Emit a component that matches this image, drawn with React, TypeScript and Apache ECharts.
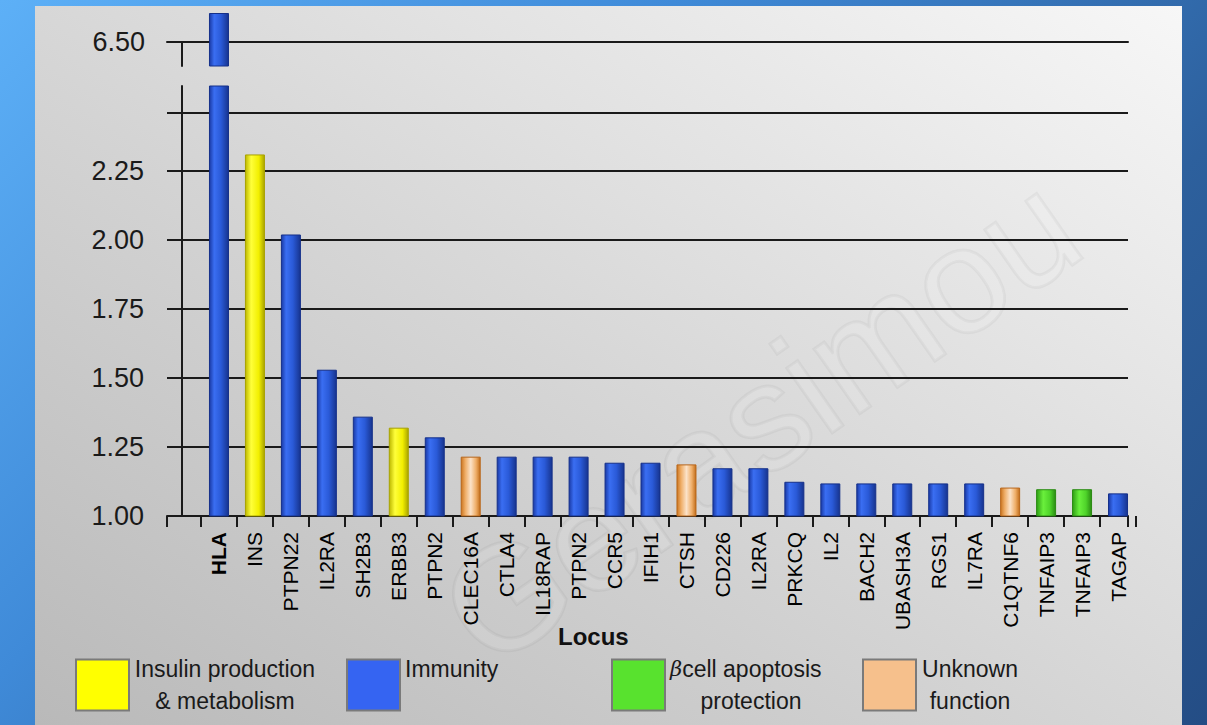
import { useEffect, useRef } from 'react';
import * as echarts from 'echarts';

// Loci ranked by odds ratio, with the functional group of each locus
const loci = ['HLA', 'INS', 'PTPN22', 'IL2RA', 'SH2B3', 'ERBB3', 'PTPN2', 'CLEC16A', 'CTLA4', 'IL18RAP', 'PTPN2', 'CCR5', 'IFIH1', 'CTSH', 'CD226', 'IL2RA', 'PRKCQ', 'IL2', 'BACH2', 'UBASH3A', 'RGS1', 'IL7RA', 'C1QTNF6', 'TNFAIP3', 'TNFAIP3', 'TAGAP'];
const oddsRatios = [6.6, 2.31, 2.02, 1.53, 1.36, 1.32, 1.285, 1.215, 1.215, 1.215, 1.215, 1.193, 1.193, 1.187, 1.173, 1.173, 1.124, 1.118, 1.118, 1.118, 1.118, 1.118, 1.103, 1.097, 1.097, 1.082];
const locusGroup = ['imm', 'ins', 'imm', 'imm', 'imm', 'ins', 'imm', 'unk', 'imm', 'imm', 'imm', 'imm', 'imm', 'unk', 'imm', 'imm', 'imm', 'imm', 'imm', 'imm', 'imm', 'imm', 'unk', 'beta', 'beta', 'imm'];

const groupKeys = ['ins', 'imm', 'beta', 'unk'];
const groupNames = ['Insulin production & metabolism', 'Immunity', 'β cell apoptosis protection', 'Unknown function'];

// Broken value axis: lower segment and upper segment
const lowerMin = 1.0;
const lowerTop = 2.46;
const lowerBarMax = 2.558;
const lowerTicks = [1.0, 1.25, 1.5, 1.75, 2.0, 2.25];
const upperTick = 6.5;
const upperBarMin = 6.417;
const upperBarMax = 6.6;

const FONT = "'Liberation Sans', Arial, sans-serif";

const barStops: Record<string, [number, string][]> = {
  imm: [[0, '#1a3aa6'], [0.25, '#3a6ef2'], [0.6, '#2a5ad8'], [1, '#17348f']],
  ins: [[0, '#bdb800'], [0.3, '#ffff3a'], [0.7, '#f2ef00'], [1, '#aaa400']],
  unk: [[0, '#cc7620'], [0.22, '#efae68'], [0.5, '#fbe2c8'], [0.78, '#efae68'], [1, '#c26d1a']],
  beta: [[0, '#2f9e15'], [0.35, '#6af03c'], [0.7, '#4fd42a'], [1, '#2a8c12']],
};
const barBorder: Record<string, string> = {
  imm: '#15308a', ins: '#a8a200', unk: '#b8661a', beta: '#2a8a12',
};
const legendColor: Record<string, string> = {
  ins: '#ffff00', imm: '#3564f2', beta: '#58e22e', unk: '#f6c08c',
};

const barColor = (key: string) =>
  new echarts.graphic.LinearGradient(0, 0, 1, 0, barStops[key].map(([offset, color]) => ({ offset, color })));

const legendText: Record<string, string> = {
  'Insulin production & metabolism': '{ins|Insulin production}\n{ins|& metabolism}',
  'Immunity': '{imm|Immunity}\n{imm| }',
  'β cell apoptosis protection': '{sym|β}{beta|cell apoptosis}\n{betab|protection}',
  'Unknown function': '{unk|Unknown}\n{unk|function}',
};

export default function App() {
  const ref = useRef<HTMLDivElement>(null);

  useEffect(() => {
    if (!ref.current) return;
    const chart = echarts.init(ref.current, null, { renderer: 'svg' });

    const legendTok = { fontSize: 23, lineHeight: 32, color: '#1a1a1a', fontFamily: FONT };

    const lowerSeries = groupKeys.map((key, gi) => ({
      type: 'bar',
      name: groupNames[gi],
      xAxisIndex: 3,
      yAxisIndex: 3,
      barWidth: 20,
      barGap: '-100%',
      data: oddsRatios.map((v, i) => (locusGroup[i] === key ? v : '-')),
      itemStyle: { color: barColor(key), borderColor: barBorder[key], borderWidth: 1 },
    }));

    const upperSeries = {
      type: 'bar',
      name: 'Immunity',
      xAxisIndex: 4,
      yAxisIndex: 4,
      barWidth: 20,
      data: oddsRatios.map((v, i) =>
        v > lowerBarMax
          ? { value: v, itemStyle: { color: barColor(locusGroup[i]), borderColor: barBorder[locusGroup[i]], borderWidth: 1 } }
          : '-'
      ),
    };

    const black = { color: '#1a1a1a', width: 2 };

    chart.setOption({
      animation: false,
      backgroundColor: 'transparent',
      title: {
        text: 'Locus',
        left: 553,
        top: 619,
        textStyle: { fontSize: 24, fontWeight: 'bold', color: '#111', fontFamily: FONT },
      },
      graphic: [
        {
          type: 'text',
          x: 760,
          y: 420,
          rotation: 0.61,
          z: 0,
          silent: true,
          style: {
            text: 'Gerasimou',
            fontSize: 150,
            fontFamily: FONT,
            fill: 'rgba(255,255,255,0.11)',
            stroke: 'rgba(0,0,0,0.04)',
            lineWidth: 3,
            align: 'center',
            verticalAlign: 'middle',
          },
        },
      ],
      legend: {
        left: 75,
        top: 653,
        padding: 0,
        itemWidth: 53,
        itemHeight: 51,
        itemGap: 30,
        icon: 'rect',
        selectedMode: false,
        data: groupKeys.map((key, gi) => ({
          name: groupNames[gi],
          itemStyle: { color: legendColor[key], borderColor: '#7a7a7a', borderWidth: 2 },
        })),
        formatter: (name: string) => legendText[name],
        textStyle: {
          ...legendTok,
          rich: {
            ins: { ...legendTok, width: 182, align: 'center' },
            imm: { ...legendTok, width: 176, align: 'left' },
            sym: { ...legendTok, fontSize: 21, fontStyle: 'italic', fontFamily: "'DejaVu Serif', serif" },
            beta: { ...legendTok },
            betab: { ...legendTok, width: 162, align: 'center' },
            unk: { ...legendTok, width: 98, align: 'center' },
          },
        },
      },
      grid: [
        { left: 167, top: 113, width: 961, height: 403 },
        { left: 182, top: 86, width: 10, height: 430 },
        { left: 167, top: 42, width: 961, height: 24 },
        { left: 201, top: 86, width: 935, height: 430 },
        { left: 201, top: 13, width: 935, height: 53 },
      ],
      xAxis: [
        {
          gridIndex: 0, type: 'value', min: 0, max: 1, interval: 1,
          axisLine: { show: true, lineStyle: black },
          axisTick: { show: true, length: 11, lineStyle: black },
          axisLabel: { show: false }, splitLine: { show: false },
        },
        { gridIndex: 1, type: 'value', min: 0, max: 1, show: false },
        {
          gridIndex: 2, type: 'value', position: 'top', min: 0, max: 1,
          axisLine: { show: true, lineStyle: black }, axisTick: { show: false },
          axisLabel: { show: false }, splitLine: { show: false },
        },
        {
          gridIndex: 3,
          type: 'category',
          data: loci,
          axisLine: { show: false },
          axisTick: { show: true, interval: 0, length: 11, lineStyle: black },
          splitLine: { show: false },
          axisLabel: {
            interval: 0,
            rotate: 90,
            margin: 16,
            fontSize: 21,
            color: '#000',
            fontFamily: FONT,
            formatter: (v: string, i: number) => (i === 0 ? `{b|${v}}` : v),
            rich: { b: { fontSize: 21, fontWeight: 'bold', color: '#000', fontFamily: FONT } },
          },
        },
        { gridIndex: 4, type: 'category', data: loci, show: false },
      ],
      yAxis: [
        {
          gridIndex: 0,
          type: 'value',
          min: lowerMin,
          max: lowerTop,
          interval: 0.25,
          axisLine: { show: false },
          axisTick: { show: false },
          splitLine: { show: true, lineStyle: black },
          axisLabel: {
            margin: 23,
            fontSize: 27,
            color: '#1a1a1a',
            fontFamily: FONT,
            formatter: (v: number) =>
              lowerTicks.some((t) => Math.abs(t - v) < 1e-6) ? v.toFixed(2) : '',
          },
        },
        {
          gridIndex: 1, type: 'value', min: 0, max: 1,
          axisLine: { show: true, lineStyle: black }, axisTick: { show: false },
          axisLabel: { show: false }, splitLine: { show: false },
        },
        {
          gridIndex: 2,
          type: 'value',
          min: 6.4,
          max: upperTick,
          interval: 0.1,
          offset: -15,
          axisLine: { show: true, lineStyle: black },
          axisTick: { show: false },
          splitLine: { show: false },
          axisLabel: {
            margin: 37,
            fontSize: 27,
            color: '#1a1a1a',
            fontFamily: FONT,
            formatter: (v: number) => (Math.abs(v - upperTick) < 1e-6 ? v.toFixed(2) : ''),
          },
        },
        { gridIndex: 3, type: 'value', min: lowerMin, max: lowerBarMax, show: false },
        { gridIndex: 4, type: 'value', min: upperBarMin, max: upperBarMax, show: false },
      ],
      series: [...lowerSeries, upperSeries],
    });

    return () => chart.dispose();
  }, []);

  return (
    <div
      style={{
        position: 'fixed',
        left: 0,
        top: 0,
        width: 1207,
        height: 725,
        overflow: 'hidden',
        background: 'linear-gradient(135deg, #5db0f7 0%, #3f8ad8 35%, #2d609d 70%, #244d85 100%)',
      }}
    >
      <div
        style={{
          position: 'absolute',
          left: 35,
          top: 6,
          width: 1147,
          height: 719,
          background: 'linear-gradient(to top right, #b9b9b9 0%, #d4d4d4 45%, #f7f7f7 100%)',
        }}
      />
      <div ref={ref} style={{ position: 'absolute', left: 0, top: 0, width: 1207, height: 725 }} />
    </div>
  );
}
